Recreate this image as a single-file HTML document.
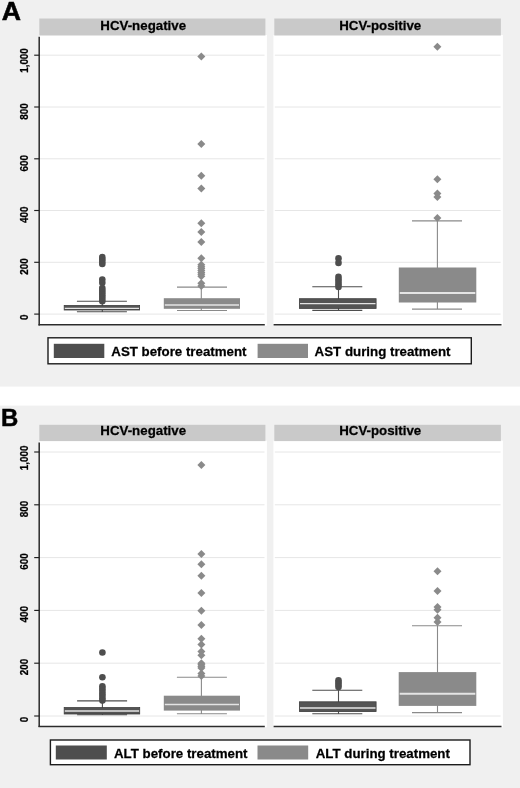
<!DOCTYPE html>
<html><head><meta charset="utf-8"><title>Figure</title>
<style>
html,body{margin:0;padding:0;background:#fff;}
body{width:520px;height:788px;overflow:hidden;font-family:"Liberation Sans",sans-serif;}
svg{display:block;filter:grayscale(1);}
.t{fill:#000;stroke:#000;stroke-width:0.25px;}
</style></head><body>
<svg width="520" height="788" viewBox="0 0 520 788" font-family="'Liberation Sans', sans-serif">
<rect x="0" y="0" width="520" height="788" fill="#fff"/>
<rect x="0" y="0" width="520" height="386.6" fill="#f0f0f0"/>
<text transform="translate(1.75 20.0) scale(1.075 1.025)" font-size="24.8" font-weight="bold" fill="#000" stroke="#000" stroke-width="0.5">A</text>
<rect x="39.3" y="35.0" width="227.6" height="290.7" fill="#fff"/>
<rect x="39.3" y="18.5" width="226.1" height="17" fill="#c9c9c9"/>
<text transform="translate(143.2 29.7) scale(1 1.03)" font-size="13.3" font-weight="bold" text-anchor="middle" class="t">HCV-negative</text>
<line x1="40" x2="264.5" y1="314.1" y2="314.1" stroke="#e6e6e6" stroke-width="1"/>
<line x1="40" x2="264.5" y1="262.3" y2="262.3" stroke="#e6e6e6" stroke-width="1"/>
<line x1="40" x2="264.5" y1="210.5" y2="210.5" stroke="#e6e6e6" stroke-width="1"/>
<line x1="40" x2="264.5" y1="158.8" y2="158.8" stroke="#e6e6e6" stroke-width="1"/>
<line x1="40" x2="264.5" y1="107.0" y2="107.0" stroke="#e6e6e6" stroke-width="1"/>
<line x1="40" x2="264.5" y1="55.2" y2="55.2" stroke="#e6e6e6" stroke-width="1"/>
<rect x="273.4" y="35.0" width="229.5" height="290.7" fill="#fff"/>
<rect x="274.3" y="18.5" width="226.6" height="17" fill="#c9c9c9"/>
<text transform="translate(380.2 29.7) scale(1 1.03)" font-size="13.3" font-weight="bold" text-anchor="middle" class="t">HCV-positive</text>
<line x1="274.8" x2="500.6" y1="314.1" y2="314.1" stroke="#e6e6e6" stroke-width="1"/>
<line x1="274.8" x2="500.6" y1="262.3" y2="262.3" stroke="#e6e6e6" stroke-width="1"/>
<line x1="274.8" x2="500.6" y1="210.5" y2="210.5" stroke="#e6e6e6" stroke-width="1"/>
<line x1="274.8" x2="500.6" y1="158.8" y2="158.8" stroke="#e6e6e6" stroke-width="1"/>
<line x1="274.8" x2="500.6" y1="107.0" y2="107.0" stroke="#e6e6e6" stroke-width="1"/>
<line x1="274.8" x2="500.6" y1="55.2" y2="55.2" stroke="#e6e6e6" stroke-width="1"/>
<path d="M102.3 301.2V311.8M76.9 301.2H126.9M76.9 311.8H126.9" stroke="#4e4e4e" stroke-width="1.1" fill="none"/>
<rect x="64.2" y="305.5" width="75.4" height="4.5" fill="#545454" stroke="#3e3e3e" stroke-width="0.8"/>
<line x1="64.8" x2="139" y1="308.3" y2="308.3" stroke="#e4e4e4" stroke-width="1.2"/>
<circle cx="102.3" cy="257" r="3.3" fill="#4e4e4e"/>
<circle cx="102.3" cy="259.33" r="3.3" fill="#4e4e4e"/>
<circle cx="102.3" cy="261.67" r="3.3" fill="#4e4e4e"/>
<circle cx="102.3" cy="264" r="3.3" fill="#4e4e4e"/>
<circle cx="102.3" cy="279.5" r="3.3" fill="#4e4e4e"/>
<circle cx="102.3" cy="282.8" r="3.3" fill="#4e4e4e"/>
<circle cx="102.3" cy="288" r="3.3" fill="#4e4e4e"/>
<circle cx="102.3" cy="290.22" r="3.3" fill="#4e4e4e"/>
<circle cx="102.3" cy="292.43" r="3.3" fill="#4e4e4e"/>
<circle cx="102.3" cy="294.65" r="3.3" fill="#4e4e4e"/>
<circle cx="102.3" cy="296.87" r="3.3" fill="#4e4e4e"/>
<circle cx="102.3" cy="299.08" r="3.3" fill="#4e4e4e"/>
<circle cx="102.3" cy="301.3" r="3.3" fill="#4e4e4e"/>
<path d="M201.3 287.1V310.5M177 287.1H227M177 310.5H227" stroke="#8a8a8a" stroke-width="1.1" fill="none"/>
<rect x="163.8" y="298.2" width="76.2" height="10.6" fill="#8a8a8a"/>
<line x1="164.8" x2="239" y1="305" y2="305" stroke="#e4e4e4" stroke-width="1.3"/>
<path d="M197.3 56.4L201.3 52.4L205.3 56.4L201.3 60.4Z" fill="#8a8a8a"/>
<path d="M197.3 144L201.3 140L205.3 144L201.3 148Z" fill="#8a8a8a"/>
<path d="M197.3 175.7L201.3 171.7L205.3 175.7L201.3 179.7Z" fill="#8a8a8a"/>
<path d="M197.3 188.5L201.3 184.5L205.3 188.5L201.3 192.5Z" fill="#8a8a8a"/>
<path d="M197.3 223.2L201.3 219.2L205.3 223.2L201.3 227.2Z" fill="#8a8a8a"/>
<path d="M197.3 232L201.3 228L205.3 232L201.3 236Z" fill="#8a8a8a"/>
<path d="M197.3 242L201.3 238L205.3 242L201.3 246Z" fill="#8a8a8a"/>
<path d="M197.3 258.2L201.3 254.2L205.3 258.2L201.3 262.2Z" fill="#8a8a8a"/>
<path d="M197.3 264.8L201.3 260.8L205.3 264.8L201.3 268.8Z" fill="#8a8a8a"/>
<path d="M197.3 266.7L201.3 262.7L205.3 266.7L201.3 270.7Z" fill="#8a8a8a"/>
<path d="M197.3 268.6L201.3 264.6L205.3 268.6L201.3 272.6Z" fill="#8a8a8a"/>
<path d="M197.3 270.5L201.3 266.5L205.3 270.5L201.3 274.5Z" fill="#8a8a8a"/>
<path d="M197.3 272.4L201.3 268.4L205.3 272.4L201.3 276.4Z" fill="#8a8a8a"/>
<path d="M197.3 274.3L201.3 270.3L205.3 274.3L201.3 278.3Z" fill="#8a8a8a"/>
<path d="M197.3 276.2L201.3 272.2L205.3 276.2L201.3 280.2Z" fill="#8a8a8a"/>
<path d="M197.3 283.3L201.3 279.3L205.3 283.3L201.3 287.3Z" fill="#8a8a8a"/>
<path d="M197.3 286L201.3 282L205.3 286L201.3 290Z" fill="#8a8a8a"/>
<path d="M338.5 286.7V310.4M312.3 286.7H362.3M312.3 310.4H362.3" stroke="#4e4e4e" stroke-width="1.1" fill="none"/>
<rect x="299.4" y="298.7" width="76.7" height="9.7" fill="#545454" stroke="#3e3e3e" stroke-width="0.8"/>
<line x1="300" x2="375.5" y1="303.7" y2="303.7" stroke="#e4e4e4" stroke-width="1.3"/>
<circle cx="338.5" cy="258.4" r="3.3" fill="#4e4e4e"/>
<circle cx="338.5" cy="262.9" r="3.3" fill="#4e4e4e"/>
<circle cx="338.5" cy="276.7" r="3.3" fill="#4e4e4e"/>
<circle cx="338.5" cy="279.25" r="3.3" fill="#4e4e4e"/>
<circle cx="338.5" cy="281.8" r="3.3" fill="#4e4e4e"/>
<circle cx="338.5" cy="284.35" r="3.3" fill="#4e4e4e"/>
<circle cx="338.5" cy="286.9" r="3.3" fill="#4e4e4e"/>
<path d="M437.4 220.9V309.1M412 220.9H462M412 309.1H462" stroke="#8a8a8a" stroke-width="1.1" fill="none"/>
<rect x="398.8" y="267.5" width="77.5" height="35" fill="#8a8a8a"/>
<line x1="399.8" x2="475.3" y1="293.1" y2="293.1" stroke="#e4e4e4" stroke-width="2.0"/>
<path d="M433.4 46.8L437.4 42.8L441.4 46.8L437.4 50.8Z" fill="#8a8a8a"/>
<path d="M433.4 179.3L437.4 175.3L441.4 179.3L437.4 183.3Z" fill="#8a8a8a"/>
<path d="M433.4 193.5L437.4 189.5L441.4 193.5L437.4 197.5Z" fill="#8a8a8a"/>
<path d="M433.4 196.9L437.4 192.9L441.4 196.9L437.4 200.9Z" fill="#8a8a8a"/>
<path d="M433.4 218L437.4 214L441.4 218L437.4 222Z" fill="#8a8a8a"/>
<line x1="39.2" x2="39.2" y1="36.8" y2="325.5" stroke="#2b2b2b" stroke-width="1.5"/>
<line x1="38.5" x2="264.8" y1="324.8" y2="324.8" stroke="#2b2b2b" stroke-width="1.5"/>
<line x1="273.6" x2="501.5" y1="324.8" y2="324.8" stroke="#2b2b2b" stroke-width="1.5"/>
<line x1="34.2" x2="39.2" y1="314.1" y2="314.1" stroke="#1e1e1e" stroke-width="1.15"/>
<text transform="translate(28.4 317.2) rotate(-90) scale(1 1.04)" font-size="9.9" font-weight="bold" text-anchor="middle" class="t">0</text>
<line x1="34.2" x2="39.2" y1="262.3" y2="262.3" stroke="#1e1e1e" stroke-width="1.15"/>
<text transform="translate(28.4 266.5) rotate(-90) scale(1 1.04)" font-size="9.9" font-weight="bold" text-anchor="middle" class="t">200</text>
<line x1="34.2" x2="39.2" y1="210.5" y2="210.5" stroke="#1e1e1e" stroke-width="1.15"/>
<text transform="translate(28.4 214.7) rotate(-90) scale(1 1.04)" font-size="9.9" font-weight="bold" text-anchor="middle" class="t">400</text>
<line x1="34.2" x2="39.2" y1="158.8" y2="158.8" stroke="#1e1e1e" stroke-width="1.15"/>
<text transform="translate(28.4 163.3) rotate(-90) scale(1 1.04)" font-size="9.9" font-weight="bold" text-anchor="middle" class="t">600</text>
<line x1="34.2" x2="39.2" y1="107.0" y2="107.0" stroke="#1e1e1e" stroke-width="1.15"/>
<text transform="translate(28.4 111.4) rotate(-90) scale(1 1.04)" font-size="9.9" font-weight="bold" text-anchor="middle" class="t">800</text>
<line x1="34.2" x2="39.2" y1="55.2" y2="55.2" stroke="#1e1e1e" stroke-width="1.15"/>
<text transform="translate(28.4 60.5) rotate(-90) scale(1 1.04)" font-size="9.9" font-weight="bold" text-anchor="middle" class="t">1,000</text>
<rect x="48" y="337.8" width="423.3" height="26" fill="#fff" stroke="#1c1c1c" stroke-width="1.4"/>
<rect x="53.8" y="343.8" width="50.5" height="14.2" fill="#4e4e4e"/>
<text transform="translate(111.3 356.2) scale(1 1.03)" font-size="13.3" font-weight="bold" class="t">AST before treatment</text>
<rect x="257.6" y="343.8" width="50.4" height="14.2" fill="#8a8a8a"/>
<text transform="translate(314.6 356.2) scale(1 1.03)" font-size="13.3" font-weight="bold" class="t">AST during treatment</text>
<rect x="0" y="405.6" width="520" height="382.4" fill="#f0f0f0"/>
<text transform="translate(1.0 425.8) scale(0.965 0.98)" font-size="24.8" font-weight="bold" fill="#000" stroke="#000" stroke-width="0.5">B</text>
<rect x="39.3" y="440.6" width="227.6" height="286.7" fill="#fff"/>
<rect x="39.3" y="424.8" width="226.1" height="16.3" fill="#c9c9c9"/>
<text transform="translate(143.2 435) scale(1 1.03)" font-size="13.3" font-weight="bold" text-anchor="middle" class="t">HCV-negative</text>
<line x1="40" x2="264.5" y1="716.0" y2="716.0" stroke="#e6e6e6" stroke-width="1"/>
<line x1="40" x2="264.5" y1="663.2" y2="663.2" stroke="#e6e6e6" stroke-width="1"/>
<line x1="40" x2="264.5" y1="610.4" y2="610.4" stroke="#e6e6e6" stroke-width="1"/>
<line x1="40" x2="264.5" y1="557.6" y2="557.6" stroke="#e6e6e6" stroke-width="1"/>
<line x1="40" x2="264.5" y1="504.8" y2="504.8" stroke="#e6e6e6" stroke-width="1"/>
<line x1="40" x2="264.5" y1="452.0" y2="452.0" stroke="#e6e6e6" stroke-width="1"/>
<rect x="273.4" y="440.6" width="229.5" height="286.7" fill="#fff"/>
<rect x="274.3" y="424.8" width="226.6" height="16.3" fill="#c9c9c9"/>
<text transform="translate(380.2 435) scale(1 1.03)" font-size="13.3" font-weight="bold" text-anchor="middle" class="t">HCV-positive</text>
<line x1="274.8" x2="500.6" y1="716.0" y2="716.0" stroke="#e6e6e6" stroke-width="1"/>
<line x1="274.8" x2="500.6" y1="663.2" y2="663.2" stroke="#e6e6e6" stroke-width="1"/>
<line x1="274.8" x2="500.6" y1="610.4" y2="610.4" stroke="#e6e6e6" stroke-width="1"/>
<line x1="274.8" x2="500.6" y1="557.6" y2="557.6" stroke="#e6e6e6" stroke-width="1"/>
<line x1="274.8" x2="500.6" y1="504.8" y2="504.8" stroke="#e6e6e6" stroke-width="1"/>
<line x1="274.8" x2="500.6" y1="452.0" y2="452.0" stroke="#e6e6e6" stroke-width="1"/>
<path d="M102.4 700.9V714.8M77.1 700.9H127.1M77.1 714.8H127.1" stroke="#4e4e4e" stroke-width="1.1" fill="none"/>
<rect x="64.2" y="707.6" width="75.5" height="6.4" fill="#545454" stroke="#3e3e3e" stroke-width="0.8"/>
<line x1="64.8" x2="139.1" y1="711" y2="711" stroke="#e4e4e4" stroke-width="1.3"/>
<circle cx="102.4" cy="652.5" r="3.3" fill="#4e4e4e"/>
<circle cx="102.4" cy="677.2" r="3.3" fill="#4e4e4e"/>
<circle cx="102.4" cy="686.3" r="3.3" fill="#4e4e4e"/>
<circle cx="102.4" cy="688.68" r="3.3" fill="#4e4e4e"/>
<circle cx="102.4" cy="691.07" r="3.3" fill="#4e4e4e"/>
<circle cx="102.4" cy="693.45" r="3.3" fill="#4e4e4e"/>
<circle cx="102.4" cy="695.83" r="3.3" fill="#4e4e4e"/>
<circle cx="102.4" cy="698.22" r="3.3" fill="#4e4e4e"/>
<circle cx="102.4" cy="700.6" r="3.3" fill="#4e4e4e"/>
<path d="M201.4 677.2V713.7M176.9 677.2H226.9M176.9 713.7H226.9" stroke="#8a8a8a" stroke-width="1.1" fill="none"/>
<rect x="163.8" y="695.7" width="76.2" height="14.9" fill="#8a8a8a"/>
<line x1="164.8" x2="239" y1="704.5" y2="704.5" stroke="#e4e4e4" stroke-width="1.3"/>
<path d="M197.4 465.1L201.4 461.1L205.4 465.1L201.4 469.1Z" fill="#8a8a8a"/>
<path d="M197.4 554L201.4 550L205.4 554L201.4 558Z" fill="#8a8a8a"/>
<path d="M197.4 564.3L201.4 560.3L205.4 564.3L201.4 568.3Z" fill="#8a8a8a"/>
<path d="M197.4 575.8L201.4 571.8L205.4 575.8L201.4 579.8Z" fill="#8a8a8a"/>
<path d="M197.4 593L201.4 589L205.4 593L201.4 597Z" fill="#8a8a8a"/>
<path d="M197.4 610.7L201.4 606.7L205.4 610.7L201.4 614.7Z" fill="#8a8a8a"/>
<path d="M197.4 625.1L201.4 621.1L205.4 625.1L201.4 629.1Z" fill="#8a8a8a"/>
<path d="M197.4 638.8L201.4 634.8L205.4 638.8L201.4 642.8Z" fill="#8a8a8a"/>
<path d="M197.4 644.6L201.4 640.6L205.4 644.6L201.4 648.6Z" fill="#8a8a8a"/>
<path d="M197.4 651.5L201.4 647.5L205.4 651.5L201.4 655.5Z" fill="#8a8a8a"/>
<path d="M197.4 655.3L201.4 651.3L205.4 655.3L201.4 659.3Z" fill="#8a8a8a"/>
<path d="M197.4 663.2L201.4 659.2L205.4 663.2L201.4 667.2Z" fill="#8a8a8a"/>
<path d="M197.4 664.8L201.4 660.8L205.4 664.8L201.4 668.8Z" fill="#8a8a8a"/>
<path d="M197.4 666.4L201.4 662.4L205.4 666.4L201.4 670.4Z" fill="#8a8a8a"/>
<path d="M197.4 668L201.4 664L205.4 668L201.4 672Z" fill="#8a8a8a"/>
<path d="M197.4 673.6L201.4 669.6L205.4 673.6L201.4 677.6Z" fill="#8a8a8a"/>
<path d="M197.4 676L201.4 672L205.4 676L201.4 680Z" fill="#8a8a8a"/>
<path d="M338.5 690.2V713.7M312.3 690.2H362.3M312.3 713.7H362.3" stroke="#4e4e4e" stroke-width="1.1" fill="none"/>
<rect x="299.4" y="701.8" width="76.7" height="9.8" fill="#545454" stroke="#3e3e3e" stroke-width="0.8"/>
<line x1="300" x2="375.5" y1="708" y2="708" stroke="#e4e4e4" stroke-width="1.3"/>
<circle cx="338.5" cy="680.2" r="3.3" fill="#4e4e4e"/>
<circle cx="338.5" cy="682.47" r="3.3" fill="#4e4e4e"/>
<circle cx="338.5" cy="684.73" r="3.3" fill="#4e4e4e"/>
<circle cx="338.5" cy="687" r="3.3" fill="#4e4e4e"/>
<path d="M437.5 625.8V712.6M412 625.8H462M412 712.6H462" stroke="#8a8a8a" stroke-width="1.1" fill="none"/>
<rect x="398.7" y="672.1" width="77.6" height="33.8" fill="#8a8a8a"/>
<line x1="399.7" x2="475.3" y1="693.8" y2="693.8" stroke="#e4e4e4" stroke-width="2.0"/>
<path d="M433.5 571.2L437.5 567.2L441.5 571.2L437.5 575.2Z" fill="#8a8a8a"/>
<path d="M433.5 591.1L437.5 587.1L441.5 591.1L437.5 595.1Z" fill="#8a8a8a"/>
<path d="M433.5 607.1L437.5 603.1L441.5 607.1L437.5 611.1Z" fill="#8a8a8a"/>
<path d="M433.5 609.8L437.5 605.8L441.5 609.8L437.5 613.8Z" fill="#8a8a8a"/>
<path d="M433.5 617.8L437.5 613.8L441.5 617.8L437.5 621.8Z" fill="#8a8a8a"/>
<path d="M433.5 621.9L437.5 617.9L441.5 621.9L437.5 625.9Z" fill="#8a8a8a"/>
<line x1="39.2" x2="39.2" y1="442.5" y2="727.1" stroke="#2b2b2b" stroke-width="1.5"/>
<line x1="38.5" x2="264.8" y1="726.4" y2="726.4" stroke="#2b2b2b" stroke-width="1.5"/>
<line x1="273.6" x2="501.5" y1="726.4" y2="726.4" stroke="#2b2b2b" stroke-width="1.5"/>
<line x1="34.2" x2="39.2" y1="716.0" y2="716.0" stroke="#1e1e1e" stroke-width="1.15"/>
<text transform="translate(28.4 719.5) rotate(-90) scale(1 1.04)" font-size="9.9" font-weight="bold" text-anchor="middle" class="t">0</text>
<line x1="34.2" x2="39.2" y1="663.2" y2="663.2" stroke="#1e1e1e" stroke-width="1.15"/>
<text transform="translate(28.4 666.9) rotate(-90) scale(1 1.04)" font-size="9.9" font-weight="bold" text-anchor="middle" class="t">200</text>
<line x1="34.2" x2="39.2" y1="610.4" y2="610.4" stroke="#1e1e1e" stroke-width="1.15"/>
<text transform="translate(28.4 614.3) rotate(-90) scale(1 1.04)" font-size="9.9" font-weight="bold" text-anchor="middle" class="t">400</text>
<line x1="34.2" x2="39.2" y1="557.6" y2="557.6" stroke="#1e1e1e" stroke-width="1.15"/>
<text transform="translate(28.4 561.6) rotate(-90) scale(1 1.04)" font-size="9.9" font-weight="bold" text-anchor="middle" class="t">600</text>
<line x1="34.2" x2="39.2" y1="504.8" y2="504.8" stroke="#1e1e1e" stroke-width="1.15"/>
<text transform="translate(28.4 508.9) rotate(-90) scale(1 1.04)" font-size="9.9" font-weight="bold" text-anchor="middle" class="t">800</text>
<line x1="34.2" x2="39.2" y1="452.0" y2="452.0" stroke="#1e1e1e" stroke-width="1.15"/>
<text transform="translate(28.4 457.9) rotate(-90) scale(1 1.04)" font-size="9.9" font-weight="bold" text-anchor="middle" class="t">1,000</text>
<rect x="50.4" y="740" width="419.6" height="24.7" fill="#fff" stroke="#1c1c1c" stroke-width="1.4"/>
<rect x="55.8" y="745.5" width="51" height="14" fill="#4e4e4e"/>
<text transform="translate(114 758.2) scale(1 1.03)" font-size="13.3" font-weight="bold" class="t">ALT before treatment</text>
<rect x="257.5" y="745.5" width="50.7" height="14" fill="#8a8a8a"/>
<text transform="translate(315.7 758.2) scale(1 1.03)" font-size="13.3" font-weight="bold" class="t">ALT during treatment</text>
</svg>
</body></html>
